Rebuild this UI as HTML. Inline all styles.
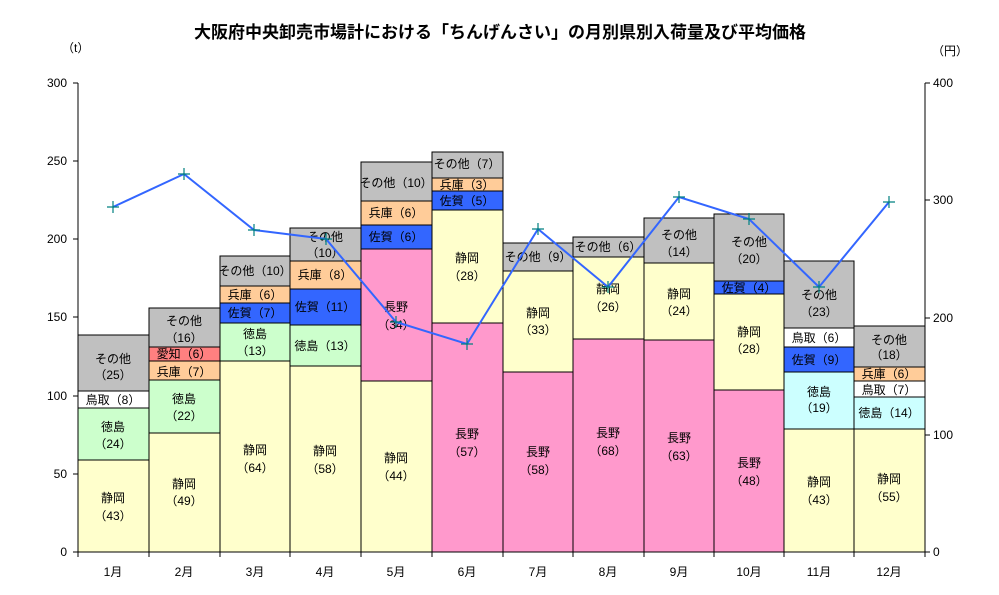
<!DOCTYPE html>
<html><head><meta charset="utf-8"><style>
body{margin:0;background:#fff;}
svg{display:block;font-family:"Liberation Sans","Noto Sans CJK JP",sans-serif;}
.l{font-size:12px;text-anchor:middle;fill:#000;}
.a{font-size:12px;fill:#000;}
</style></head><body>
<svg width="999" height="595" viewBox="0 0 999 595" xmlns="http://www.w3.org/2000/svg">
<rect width="999" height="595" fill="#fff"/>
<text x="500" y="38" text-anchor="middle" style="font-size:17px;font-weight:bold">大阪府中央卸売市場計における「ちんげんさい」の月別県別入荷量及び平均価格</text>
<text class="a" x="62" y="52">（t）</text>
<text class="a" x="932" y="55">（円）</text>
<g stroke="#000" stroke-width="1">
<!-- bar1 -->
<rect x="78" y="460" width="71" height="92" fill="#FFFFCC"/>
<rect x="78" y="408" width="71" height="52" fill="#CCFFCC"/>
<rect x="78" y="391" width="71" height="17" fill="#FFFFFF"/>
<rect x="78" y="335" width="71" height="56" fill="#C0C0C0"/>
<!-- bar2 -->
<rect x="149" y="433" width="71" height="119" fill="#FFFFCC"/>
<rect x="149" y="380" width="71" height="53" fill="#CCFFCC"/>
<rect x="149" y="361" width="71" height="19" fill="#FFCC99"/>
<rect x="149" y="347" width="71" height="14" fill="#FF8080"/>
<rect x="149" y="308" width="71" height="39" fill="#C0C0C0"/>
<!-- bar3 -->
<rect x="220" y="361" width="70" height="191" fill="#FFFFCC"/>
<rect x="220" y="323" width="70" height="38" fill="#CCFFCC"/>
<rect x="220" y="303" width="70" height="20" fill="#3366FF"/>
<rect x="220" y="286" width="70" height="17" fill="#FFCC99"/>
<rect x="220" y="256" width="70" height="30" fill="#C0C0C0"/>
<!-- bar4 -->
<rect x="290" y="366" width="71" height="186" fill="#FFFFCC"/>
<rect x="290" y="325" width="71" height="41" fill="#CCFFCC"/>
<rect x="290" y="289" width="71" height="36" fill="#3366FF"/>
<rect x="290" y="261" width="71" height="28" fill="#FFCC99"/>
<rect x="290" y="228" width="71" height="33" fill="#C0C0C0"/>
<!-- bar5 -->
<rect x="361" y="381" width="71" height="171" fill="#FFFFCC"/>
<rect x="361" y="249" width="71" height="132" fill="#FF99CC"/>
<rect x="361" y="225" width="71" height="24" fill="#3366FF"/>
<rect x="361" y="201" width="71" height="24" fill="#FFCC99"/>
<rect x="361" y="162" width="71" height="39" fill="#C0C0C0"/>
<!-- bar6 -->
<rect x="432" y="323" width="71" height="229" fill="#FF99CC"/>
<rect x="432" y="210" width="71" height="113" fill="#FFFFCC"/>
<rect x="432" y="191" width="71" height="19" fill="#3366FF"/>
<rect x="432" y="178" width="71" height="13" fill="#FFCC99"/>
<rect x="432" y="152" width="71" height="26" fill="#C0C0C0"/>
<!-- bar7 -->
<rect x="503" y="372" width="70" height="180" fill="#FF99CC"/>
<rect x="503" y="271" width="70" height="101" fill="#FFFFCC"/>
<rect x="503" y="243" width="70" height="28" fill="#C0C0C0"/>
<!-- bar8 -->
<rect x="573" y="339" width="71" height="213" fill="#FF99CC"/>
<rect x="573" y="257" width="71" height="82" fill="#FFFFCC"/>
<rect x="573" y="237" width="71" height="20" fill="#C0C0C0"/>
<!-- bar9 -->
<rect x="644" y="340" width="70" height="212" fill="#FF99CC"/>
<rect x="644" y="263" width="70" height="77" fill="#FFFFCC"/>
<rect x="644" y="218" width="70" height="45" fill="#C0C0C0"/>
<!-- bar10 -->
<rect x="714" y="390" width="70" height="162" fill="#FF99CC"/>
<rect x="714" y="294" width="70" height="96" fill="#FFFFCC"/>
<rect x="714" y="281" width="70" height="13" fill="#3366FF"/>
<rect x="714" y="214" width="70" height="67" fill="#C0C0C0"/>
<!-- bar11 -->
<rect x="784" y="429" width="70" height="123" fill="#FFFFCC"/>
<rect x="784" y="372" width="70" height="57" fill="#CCFFFF"/>
<rect x="784" y="347" width="70" height="25" fill="#3366FF"/>
<rect x="784" y="328" width="70" height="19" fill="#FFFFFF"/>
<rect x="784" y="261" width="70" height="67" fill="#C0C0C0"/>
<!-- bar12 -->
<rect x="854" y="429" width="71" height="123" fill="#FFFFCC"/>
<rect x="854" y="397" width="71" height="32" fill="#CCFFFF"/>
<rect x="854" y="381" width="71" height="16" fill="#FFFFFF"/>
<rect x="854" y="367" width="71" height="14" fill="#FFCC99"/>
<rect x="854" y="326" width="71" height="41" fill="#C0C0C0"/>
</g>
<!-- axes -->
<g stroke="#000" stroke-width="1">
<line x1="78" y1="83" x2="78" y2="552"/>
<line x1="925" y1="83" x2="925" y2="552"/>
<line x1="78" y1="552" x2="925" y2="552"/>
<line x1="73" y1="83" x2="78" y2="83"/><line x1="73" y1="161" x2="78" y2="161"/><line x1="73" y1="239" x2="78" y2="239"/><line x1="73" y1="317" x2="78" y2="317"/><line x1="73" y1="396" x2="78" y2="396"/><line x1="73" y1="474" x2="78" y2="474"/><line x1="73" y1="552" x2="78" y2="552"/>
<line x1="925" y1="83" x2="930" y2="83"/><line x1="925" y1="200" x2="930" y2="200"/><line x1="925" y1="318" x2="930" y2="318"/><line x1="925" y1="435" x2="930" y2="435"/><line x1="925" y1="552" x2="930" y2="552"/>
<line x1="149" y1="552" x2="149" y2="557"/><line x1="220" y1="552" x2="220" y2="557"/><line x1="290" y1="552" x2="290" y2="557"/><line x1="361" y1="552" x2="361" y2="557"/><line x1="432" y1="552" x2="432" y2="557"/><line x1="503" y1="552" x2="503" y2="557"/><line x1="573" y1="552" x2="573" y2="557"/><line x1="644" y1="552" x2="644" y2="557"/><line x1="714" y1="552" x2="714" y2="557"/><line x1="784" y1="552" x2="784" y2="557"/><line x1="854" y1="552" x2="854" y2="557"/><line x1="78" y1="552" x2="78" y2="557"/><line x1="925" y1="552" x2="925" y2="557"/>
</g>
<g class="a" text-anchor="end">
<text x="67" y="87" text-anchor="end">300</text><text x="67" y="165" text-anchor="end">250</text><text x="67" y="243" text-anchor="end">200</text><text x="67" y="321" text-anchor="end">150</text><text x="67" y="400" text-anchor="end">100</text><text x="67" y="478" text-anchor="end">50</text><text x="67" y="556" text-anchor="end">0</text>
</g>
<g class="a">
<text x="933" y="87">400</text><text x="933" y="204">300</text><text x="933" y="322">200</text><text x="933" y="439">100</text><text x="933" y="556">0</text>
</g>
<g class="l">
<text x="113" y="576">1月</text><text x="184" y="576">2月</text><text x="255" y="576">3月</text><text x="325" y="576">4月</text><text x="396" y="576">5月</text><text x="467" y="576">6月</text><text x="538" y="576">7月</text><text x="608" y="576">8月</text><text x="679" y="576">9月</text><text x="749" y="576">10月</text><text x="819" y="576">11月</text><text x="889" y="576">12月</text>
<!-- bar1 -->
<text x="113" y="502">静岡</text><text x="113" y="520">（43）</text>
<text x="113" y="431">徳島</text><text x="113" y="448">（24）</text>
<text x="113" y="404">鳥取（8）</text>
<text x="113" y="363">その他</text><text x="113" y="379">（25）</text>
<!-- bar2 -->
<text x="184" y="488">静岡</text><text x="184" y="505">（49）</text>
<text x="184" y="403">徳島</text><text x="184" y="420">（22）</text>
<text x="184" y="376">兵庫（7）</text>
<text x="184" y="358" fill="#000">愛知（6）</text>
<text x="184" y="325">その他</text><text x="184" y="342">（16）</text>
<!-- bar3 -->
<text x="255" y="454">静岡</text><text x="255" y="472">（64）</text>
<text x="255" y="338">徳島</text><text x="255" y="355">（13）</text>
<text x="255" y="317">佐賀（7）</text>
<text x="255" y="299">兵庫（6）</text>
<text x="255" y="275">その他（10）</text>
<!-- bar4 -->
<text x="325" y="455">静岡</text><text x="325" y="473">（58）</text>
<text x="325" y="350">徳島（13）</text>
<text x="325" y="311">佐賀（11）</text>
<text x="325" y="279">兵庫（8）</text>
<text x="325" y="241">その他</text><text x="325" y="257">（10）</text>
<!-- bar5 -->
<text x="396" y="462">静岡</text><text x="396" y="480">（44）</text>
<text x="396" y="311">長野</text><text x="396" y="329">（34）</text>
<text x="396" y="241">佐賀（6）</text>
<text x="396" y="217">兵庫（6）</text>
<text x="396" y="187">その他（10）</text>
<!-- bar6 -->
<text x="467" y="438">長野</text><text x="467" y="456">（57）</text>
<text x="467" y="262">静岡</text><text x="467" y="280">（28）</text>
<text x="467" y="205">佐賀（5）</text>
<text x="467" y="189">兵庫（3）</text>
<text x="467" y="168">その他（7）</text>
<!-- bar7 -->
<text x="538" y="456">長野</text><text x="538" y="474">（58）</text>
<text x="538" y="317">静岡</text><text x="538" y="334">（33）</text>
<text x="538" y="261">その他（9）</text>
<!-- bar8 -->
<text x="608" y="437">長野</text><text x="608" y="455">（68）</text>
<text x="608" y="293">静岡</text><text x="608" y="311">（26）</text>
<text x="608" y="251">その他（6）</text>
<!-- bar9 -->
<text x="679" y="442">長野</text><text x="679" y="460">（63）</text>
<text x="679" y="298">静岡</text><text x="679" y="315">（24）</text>
<text x="679" y="239">その他</text><text x="679" y="256">（14）</text>
<!-- bar10 -->
<text x="749" y="467">長野</text><text x="749" y="485">（48）</text>
<text x="749" y="336">静岡</text><text x="749" y="353">（28）</text>
<text x="749" y="292">佐賀（4）</text>
<text x="749" y="246">その他</text><text x="749" y="263">（20）</text>
<!-- bar11 -->
<text x="819" y="486">静岡</text><text x="819" y="504">（43）</text>
<text x="819" y="396">徳島</text><text x="819" y="412">（19）</text>
<text x="819" y="364">佐賀（9）</text>
<text x="819" y="342">鳥取（6）</text>
<text x="819" y="299">その他</text><text x="819" y="316">（23）</text>
<!-- bar12 -->
<text x="889" y="483">静岡</text><text x="889" y="501">（55）</text>
<text x="889" y="417">徳島（14）</text>
<text x="889" y="394">鳥取（7）</text>
<text x="889" y="378">兵庫（6）</text>
<text x="889" y="344">その他</text><text x="889" y="359">（18）</text>
</g>
<polyline fill="none" stroke="#3366FF" stroke-width="2" points="113,207 184,174 254,230 326,239 396,322 467,344 538,229 608,287 679,197 749,219 819,287 889,202"/>
<g stroke="#008080" stroke-width="1.2">
<path d="M107,207h12M113,201v12 M178,174h12M184,168v12 M248,230h12M254,224v12 M320,239h12M326,233v12 M390,322h12M396,316v12 M461,344h12M467,338v12 M532,229h12M538,223v12 M602,287h12M608,281v12 M673,197h12M679,191v12 M743,219h12M749,213v12 M813,287h12M819,281v12 M883,202h12M889,196v12"/>
</g>
</svg>
</body></html>
